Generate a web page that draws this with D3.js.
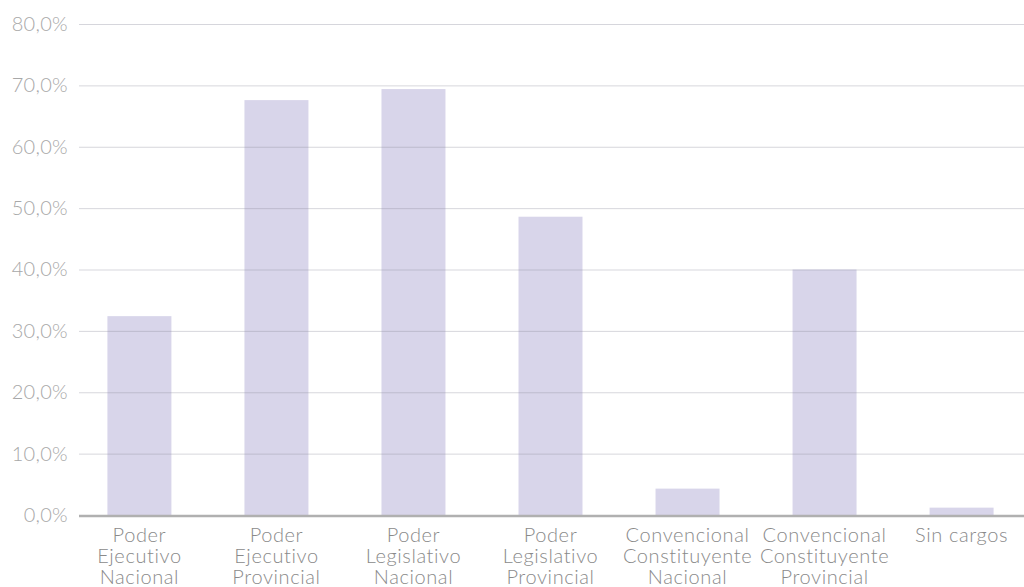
<!DOCTYPE html>
<html>
<head>
<meta charset="utf-8">
<script src="https://cdn.jsdelivr.net/npm/d3@7"></script>
<style>
  body { margin: 0; background: #fff; }
  text { font-family: "Lato", "Open Sans", sans-serif; font-weight: 300; }
</style>
</head>
<body>
<script>
var width = 1024
var height = 587

var categories = [
  ["Poder", "Ejecutivo", "Nacional"],
  ["Poder", "Ejecutivo", "Provincial"],
  ["Poder", "Legislativo", "Nacional"],
  ["Poder", "Legislativo", "Provincial"],
  ["Convencional", "Constituyente", "Nacional"],
  ["Convencional", "Constituyente", "Provincial"],
  ["Sin cargos"]
]
var values = [32.4, 67.6, 69.4, 48.6, 4.3, 40.0, 1.2]
var yTicks = [0, 10, 20, 30, 40, 50, 60, 70, 80]

var svg = d3.select("body").append("svg")
    .attr("width", width)
    .attr("height", height)

var x = d3.scaleBand()
    .domain(d3.range(categories.length))
    .range([77, 1024])
    .paddingInner(0.533)
    .paddingOuter(0.222)

var y = d3.scaleLinear()
    .domain([0, 80])
    .range([515, 24])

// bars
svg.append("g").selectAll("rect").data(values).enter()
    .append("rect")
    .attr("x", function(d, i){ return x(i) })
    .attr("width", x.bandwidth())
    .attr("y", function(d){ return y(d) })
    .attr("height", function(d){ return y(0) - y(d) })
    .attr("fill", "#d8d5ea")

// gridlines + y labels
var yAxis = svg.append("g")
    .attr("transform", "translate(79,0)")
    .call(d3.axisLeft(y).tickValues(yTicks)
        .tickSize(-945)
        .tickPadding(11)
        .tickFormat(function(d){ return d3.format(".1f")(d).replace(".", ",") + "%" }))
yAxis.select(".domain").remove()
yAxis.selectAll(".tick line")
    .attr("stroke", "#8a8a9a")
    .attr("stroke-opacity", 0.35)
yAxis.selectAll(".tick text")
    .attr("fill", "#a8a8a8")
    .style("font-size", "20px")
    .style("letter-spacing", "0.3px")
yAxis.selectAll(".tick").filter(function(d){ return d === 0 }).select("line").remove()

// baseline
svg.append("line")
    .attr("x1", 79).attr("x2", 1024)
    .attr("y1", y(0) + 1).attr("y2", y(0) + 1)
    .attr("stroke", "#b0b0b0")
    .attr("stroke-width", 2.5)

// x labels
var xl = svg.append("g").selectAll("text").data(categories).enter()
    .append("text")
    .attr("text-anchor", "middle")
    .attr("fill", "#8a8a8a")
    .style("font-size", "20px")
    .style("letter-spacing", "0.6px")
    .attr("transform", function(d, i){ return "translate(" + (x(i) + x.bandwidth() / 2) + ",542)" })
xl.selectAll("tspan").data(function(d){ return d }).enter()
    .append("tspan")
    .attr("x", 0)
    .attr("y", function(d, j){ return j * 21 })
    .text(function(d){ return d })
</script>
</body>
</html>
